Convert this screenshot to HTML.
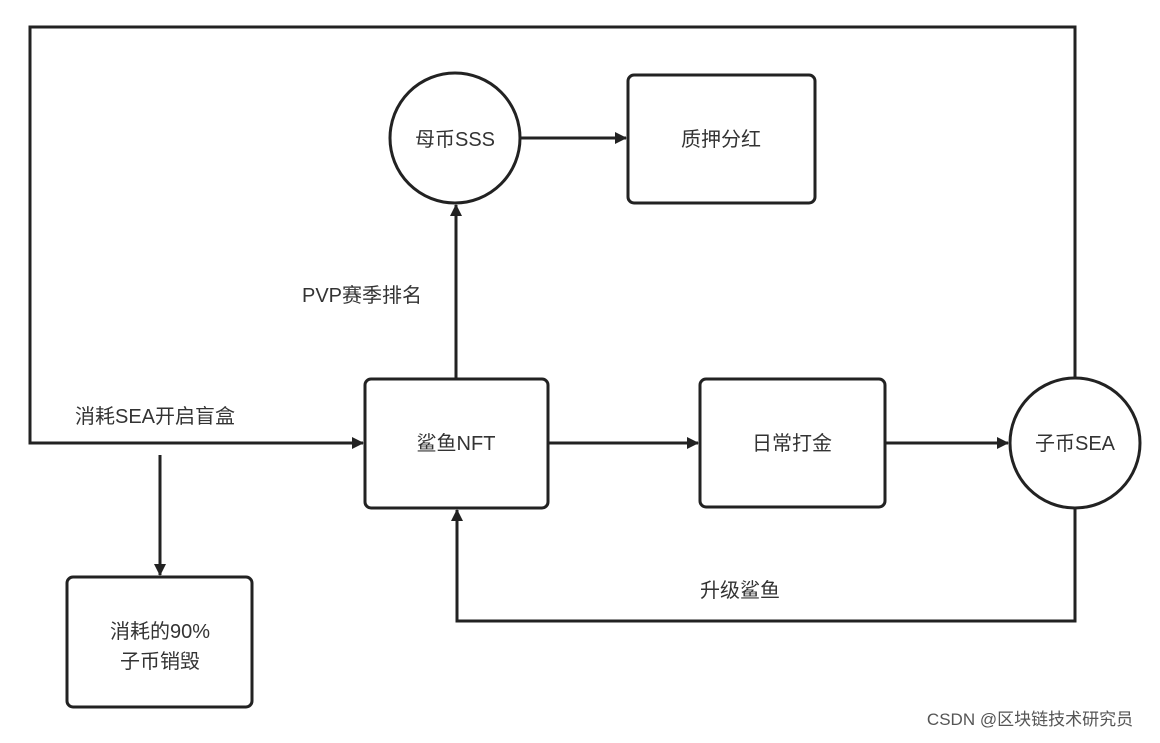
<!DOCTYPE html>
<html><head><meta charset="utf-8"><style>
body{margin:0;background:#fff;}
svg text{font-family:"Liberation Sans","Noto Sans CJK SC",sans-serif;fill:#333;}
</style></head><body>
<svg width="1160" height="738" viewBox="0 0 1160 738" xmlns="http://www.w3.org/2000/svg">
<defs><marker id="a" markerWidth="12" markerHeight="12" refX="11" refY="6" orient="auto" markerUnits="userSpaceOnUse"><path d="M0,0 L12,6 L0,12 z" fill="#222"/></marker></defs>
<g stroke="#222" stroke-width="3" fill="none">
<polyline points="1075,378 1075,27 30,27 30,443 363,443" marker-end="url(#a)"/>
<line x1="160" y1="455" x2="160" y2="575" marker-end="url(#a)"/>
<line x1="456" y1="378" x2="456" y2="205" marker-end="url(#a)"/>
<line x1="520" y1="138" x2="626" y2="138" marker-end="url(#a)"/>
<line x1="548" y1="443" x2="698" y2="443" marker-end="url(#a)"/>
<line x1="885" y1="443" x2="1008" y2="443" marker-end="url(#a)"/>
<polyline points="1075,508 1075,621 457,621 457,510" marker-end="url(#a)"/>
<rect x="365" y="379" width="183" height="129" rx="6" fill="#fff"/>
<rect x="67" y="577" width="185" height="130" rx="6" fill="#fff"/>
<rect x="628" y="75" width="187" height="128" rx="6" fill="#fff"/>
<rect x="700" y="379" width="185" height="128" rx="6" fill="#fff"/>
<circle cx="455" cy="138" r="65" fill="#fff"/>
<circle cx="1075" cy="443" r="65" fill="#fff"/>
</g>
<g font-size="20" text-anchor="middle">
<text x="456" y="450">鲨鱼NFT</text>
<text x="160" y="638">消耗的90%</text>
<text x="160" y="668">子币销毁</text>
<text x="721" y="146">质押分红</text>
<text x="792" y="450">日常打金</text>
<text x="455" y="146">母币SSS</text>
<text x="1075" y="450">子币SEA</text>
<text x="155" y="423">消耗SEA开启盲盒</text>
<text x="362" y="302">PVP赛季排名</text>
<text x="740" y="597">升级鲨鱼</text>
<text x="1030" y="725" font-size="17" style="fill:#555">CSDN @区块链技术研究员</text>
</g>
</svg>
</body></html>
